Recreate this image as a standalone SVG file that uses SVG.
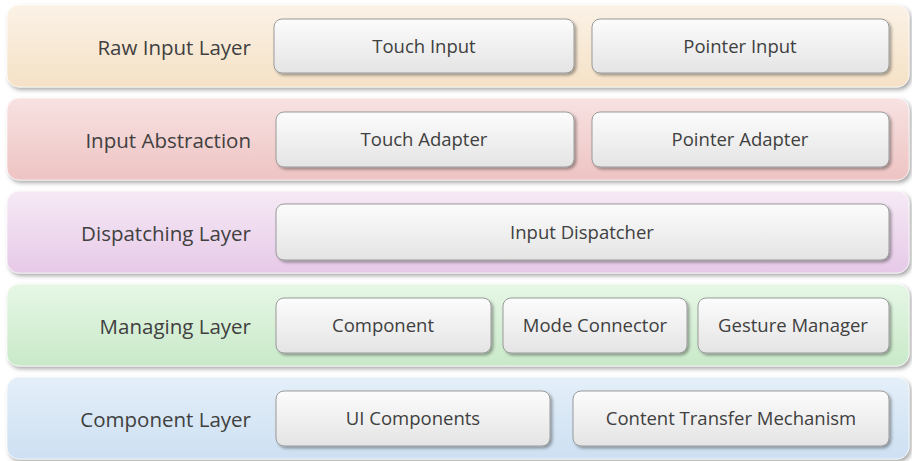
<svg xmlns="http://www.w3.org/2000/svg" width="912" height="461" viewBox="0 0 912 461">
<defs>
<linearGradient id="g1" x1="0" y1="0" x2="0" y2="1"><stop offset="0" stop-color="#fbf2e6"/><stop offset="1" stop-color="#f5e1c6"/></linearGradient>
<linearGradient id="g2" x1="0" y1="0" x2="0" y2="1"><stop offset="0" stop-color="#f8e2e2"/><stop offset="1" stop-color="#eec3c3"/></linearGradient>
<linearGradient id="g3" x1="0" y1="0" x2="0" y2="1"><stop offset="0" stop-color="#f6eaf5"/><stop offset="1" stop-color="#e6c9e8"/></linearGradient>
<linearGradient id="g4" x1="0" y1="0" x2="0" y2="1"><stop offset="0" stop-color="#e6f7e6"/><stop offset="1" stop-color="#c9e9c9"/></linearGradient>
<linearGradient id="g5" x1="0" y1="0" x2="0" y2="1"><stop offset="0" stop-color="#e4eff9"/><stop offset="1" stop-color="#cde0f2"/></linearGradient>
<linearGradient id="gb" x1="0" y1="0" x2="0" y2="1"><stop offset="0" stop-color="#fcfcfc"/><stop offset="1" stop-color="#e4e4e4"/></linearGradient>
<filter id="sh" x="-5%" y="-20%" width="110%" height="140%"><feDropShadow dx="2" dy="2.5" stdDeviation="2" flood-color="#000" flood-opacity="0.35"/></filter>
<filter id="sh2" x="-5%" y="-20%" width="110%" height="140%"><feDropShadow dx="2" dy="2" stdDeviation="1.5" flood-color="#000" flood-opacity="0.35"/></filter>
</defs>
<style>
.band{stroke:#ffffff;stroke-opacity:0.6;stroke-width:1;filter:url(#sh)}
.box{fill:url(#gb);stroke:#9a9a9a;stroke-width:1;filter:url(#sh2)}
.lbl{font-family:"Open Sans","Noto Sans",sans-serif;font-size:20.5px;fill:#404040;text-anchor:end}
.txt{font-family:"Open Sans","Noto Sans",sans-serif;font-size:18.5px;fill:#404040;text-anchor:middle}
</style>
<g id="layer-raw">
<rect class="band" x="7" y="5" width="902" height="82" rx="12" fill="url(#g1)"/>
<text class="lbl" x="251" y="55">Raw Input Layer</text>
</g>
<g id="touch-input"><rect class="box" x="274" y="19" width="300" height="54" rx="8"/><text class="txt" x="424" y="53">Touch Input</text></g>
<g id="pointer-input"><rect class="box" x="592" y="19" width="297" height="54" rx="8"/><text class="txt" x="740" y="53">Pointer Input</text></g>

<g id="layer-abstraction">
<rect class="band" x="7" y="98" width="902" height="82" rx="12" fill="url(#g2)"/>
<text class="lbl" x="251" y="148">Input Abstraction</text>
</g>
<g id="touch-adapter"><rect class="box" x="276" y="112" width="298" height="55" rx="8"/><text class="txt" x="424" y="146">Touch Adapter</text></g>
<g id="pointer-adapter"><rect class="box" x="592" y="112" width="297" height="55" rx="8"/><text class="txt" x="740" y="146">Pointer Adapter</text></g>

<g id="layer-dispatching">
<rect class="band" x="7" y="191" width="902" height="82" rx="12" fill="url(#g3)"/>
<text class="lbl" x="251" y="241">Dispatching Layer</text>
</g>
<g id="input-dispatcher"><rect class="box" x="276" y="204" width="613" height="56" rx="8"/><text class="txt" x="582" y="239">Input Dispatcher</text></g>

<g id="layer-managing">
<rect class="band" x="7" y="284" width="902" height="82" rx="12" fill="url(#g4)"/>
<text class="lbl" x="251" y="334">Managing Layer</text>
</g>
<g id="component"><rect class="box" x="276" y="298" width="215" height="55" rx="8"/><text class="txt" x="383" y="332">Component</text></g>
<g id="mode-connector"><rect class="box" x="503" y="298" width="184" height="55" rx="8"/><text class="txt" x="595" y="332">Mode Connector</text></g>
<g id="gesture-manager"><rect class="box" x="698" y="298" width="191" height="55" rx="8"/><text class="txt" x="793" y="332">Gesture Manager</text></g>

<g id="layer-component">
<rect class="band" x="7" y="377" width="902" height="82" rx="12" fill="url(#g5)"/>
<text class="lbl" x="251" y="427">Component Layer</text>
</g>
<g id="ui-components"><rect class="box" x="276" y="391" width="274" height="55" rx="8"/><text class="txt" x="413" y="425">UI Components</text></g>
<g id="content-transfer"><rect class="box" x="573" y="391" width="316" height="55" rx="8"/><text class="txt" x="731" y="425">Content Transfer Mechanism</text></g>

<g id="connectors"></g>
</svg>
